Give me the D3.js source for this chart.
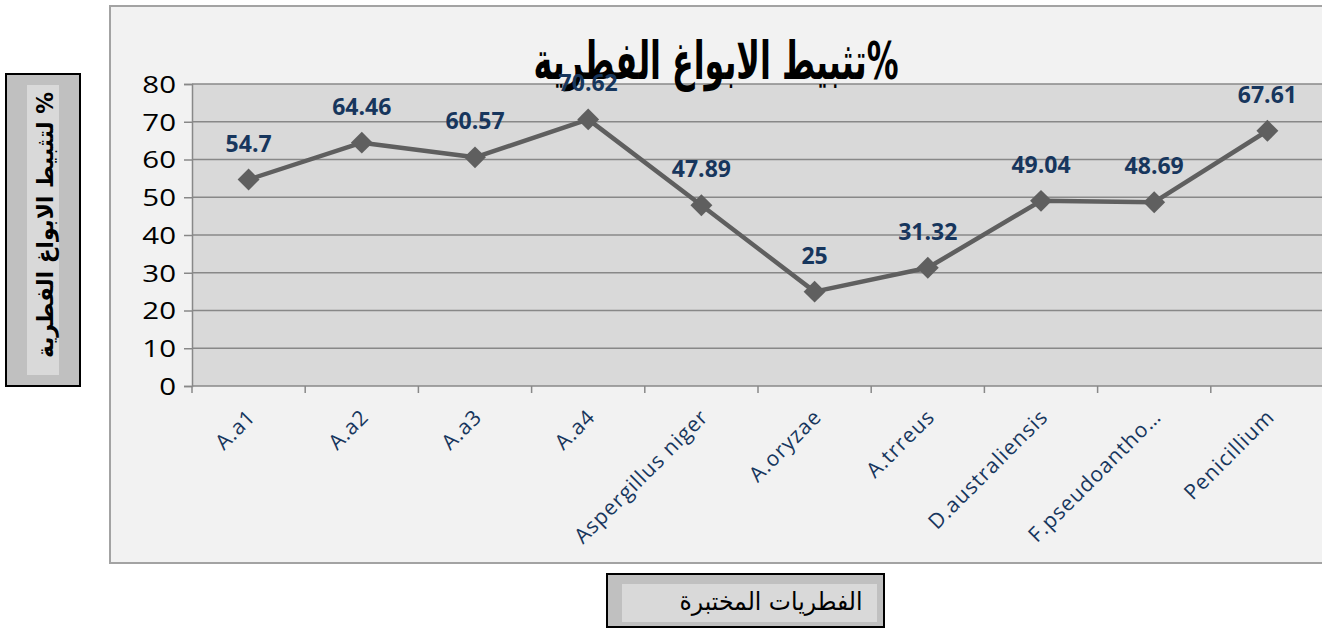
<!DOCTYPE html>
<html>
<head>
<meta charset="utf-8">
<script src="https://cdn.jsdelivr.net/npm/d3@7"></script>
<style>
  body { margin: 0; background: #fff; overflow: hidden; }
  svg { display: block; }
</style>
</head>
<body>
<div id="chart"></div>
<script>
// Data
const categories = ['A.a1', 'A.a2', 'A.a3', 'A.a4', 'Aspergillus niger', 'A.oryzae', 'A.trreus', 'D.australiensis', 'F.pseudoantho…', 'Penicillium'];
const values = [54.7, 64.46, 60.57, 70.62, 47.89, 25, 31.32, 49.04, 48.69, 67.61];
const yTicks = [0, 10, 20, 30, 40, 50, 60, 70, 80];
const titleText = '%تثبيط الابواغ الفطرية';
const yTitleText = '% لتثبيط الابواغ الفطرية';
const xTitleText = 'الفطريات المختبرة';

const W = 1322, H = 644;
const plot = { left: 192, right: 1324, top: 84, bottom: 386 };

const svg = d3.select('#chart').append('svg')
  .attr('width', W).attr('height', H);

// chart frame
svg.append('rect')
  .attr('x', 110).attr('y', 6).attr('width', 1230).attr('height', 557)
  .attr('fill', '#f2f2f2').attr('stroke', '#a3a3a3').attr('stroke-width', 2);

const x = d3.scaleBand().domain(categories).range([plot.left, plot.right]);
const y = d3.scaleLinear().domain([0, 80]).range([plot.bottom, plot.top]);

// plot area
svg.append('rect')
  .attr('x', plot.left).attr('y', plot.top)
  .attr('width', plot.right - plot.left).attr('height', plot.bottom - plot.top)
  .attr('fill', '#d9d9d9');

// gridlines
svg.append('g').selectAll('line')
  .data(yTicks.filter(d => d > 0))
  .join('line')
  .attr('x1', plot.left).attr('x2', plot.right)
  .attr('y1', d => y(d)).attr('y2', d => y(d))
  .attr('stroke', '#888').attr('stroke-width', 1.5);

// y axis
const yAxis = svg.append('g')
  .attr('transform', `translate(${plot.left},0)`)
  .call(d3.axisLeft(y).tickValues(yTicks).tickSize(8).tickPadding(5));
yAxis.select('.domain').attr('stroke', '#888').attr('stroke-width', 1.5);
yAxis.selectAll('.tick line').attr('stroke', '#888').attr('stroke-width', 1.5);
yAxis.selectAll('.tick text')
  .attr('font-family', 'Open Sans').attr('font-size', 23).attr('fill', '#000')
  .attr('transform', 'scale(1.28,1)').attr('x', -16 / 1.28).attr('dy', '0.36em');

// x axis line and boundary ticks
svg.append('line')
  .attr('x1', plot.left).attr('x2', plot.right)
  .attr('y1', plot.bottom).attr('y2', plot.bottom)
  .attr('stroke', '#888').attr('stroke-width', 1.5);
svg.append('g').selectAll('line')
  .data(categories)
  .join('line')
  .attr('x1', d => x(d)).attr('x2', d => x(d))
  .attr('y1', plot.bottom).attr('y2', plot.bottom + 7)
  .attr('stroke', '#888').attr('stroke-width', 1.5);

// category labels
const cx = d => x(d) + x.bandwidth() / 2;
svg.append('g').selectAll('text')
  .data(categories)
  .join('text')
  .attr('transform', d => `translate(${cx(d) + 3},${plot.bottom + 27}) rotate(-45)`)
  .attr('text-anchor', 'end')
  .attr('dy', '0.35em')
  .attr('font-family', 'Open Sans').attr('font-size', 21)
  .attr('letter-spacing', 1)
  .attr('fill', '#17365d')
  .text(d => d);

// line
const pts = categories.map((c, i) => ({ c, v: values[i] }));
svg.append('path')
  .datum(pts)
  .attr('d', d3.line().x(d => cx(d.c)).y(d => y(d.v)))
  .attr('fill', 'none').attr('stroke', '#5f5f5f').attr('stroke-width', 4.5)
  .attr('stroke-linejoin', 'round');

// markers
svg.append('g').selectAll('path')
  .data(pts)
  .join('path')
  .attr('d', d3.symbol().type(d3.symbolSquare).size(240))
  .attr('transform', d => `translate(${cx(d.c)},${y(d.v)}) rotate(45)`)
  .attr('fill', '#5f5f5f');

// title
svg.append('text')
  .attr('x', 716).attr('y', 79)
  .attr('text-anchor', 'middle').attr('direction', 'rtl')
  .attr('font-family', 'DejaVu Sans').attr('font-weight', 'bold').attr('font-size', 52)
  .attr('textLength', 365).attr('lengthAdjust', 'spacingAndGlyphs')
  .attr('fill', '#000')
  .text(titleText);

// data labels
svg.append('g').selectAll('text')
  .data(pts)
  .join('text')
  .attr('x', d => cx(d.c)).attr('y', d => y(d.v) - 28)
  .attr('text-anchor', 'middle')
  .attr('font-family', 'Open Sans').attr('font-weight', 'bold').attr('font-size', 23)
  .attr('fill', '#17365d')
  .text(d => d.v);

// y title box
svg.append('rect').attr('x', 6).attr('y', 74).attr('width', 74).attr('height', 312)
  .attr('fill', '#c0c0c0').attr('stroke', '#000').attr('stroke-width', 2);
svg.append('rect').attr('x', 27).attr('y', 85).attr('width', 32).attr('height', 290)
  .attr('fill', '#d9d9d9');
svg.append('text')
  .attr('transform', 'translate(53,225) rotate(-90)')
  .attr('text-anchor', 'middle').attr('direction', 'rtl')
  .attr('font-family', 'DejaVu Sans').attr('font-weight', 'bold').attr('font-size', 23)
  .attr('textLength', 266).attr('lengthAdjust', 'spacingAndGlyphs')
  .attr('fill', '#000')
  .text(yTitleText);

// x title box
svg.append('rect').attr('x', 607).attr('y', 574).attr('width', 277).attr('height', 53)
  .attr('fill', '#c0c0c0').attr('stroke', '#000').attr('stroke-width', 2);
svg.append('rect').attr('x', 622).attr('y', 584).attr('width', 255).attr('height', 38)
  .attr('fill', '#d9d9d9');
svg.append('text')
  .attr('x', 771).attr('y', 610)
  .attr('text-anchor', 'middle').attr('direction', 'rtl')
  .attr('font-family', 'DejaVu Sans').attr('font-size', 25)
  .attr('textLength', 183).attr('lengthAdjust', 'spacingAndGlyphs')
  .attr('fill', '#000')
  .text(xTitleText);
</script>
</body>
</html>
